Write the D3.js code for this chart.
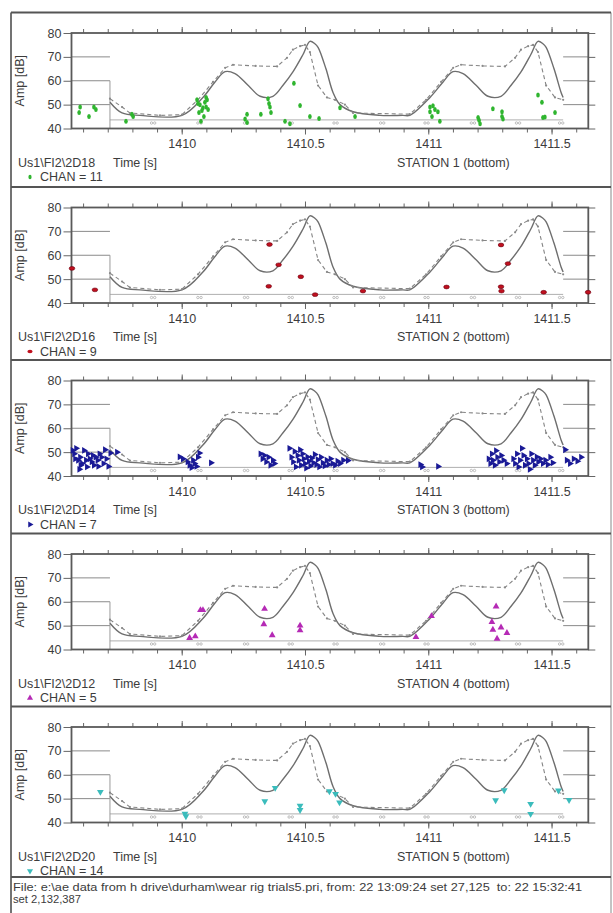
<!DOCTYPE html>
<html>
<head>
<meta charset="utf-8">
<script src="https://d3js.org/d3.v7.min.js"></script>
<style>
  body { margin: 0; background: #fff; }
  svg text { font-family: "Liberation Sans", Arial, sans-serif; fill: #3c3c3c; }
</style>
</head>
<body>
<svg id="chart" width="613" height="913"></svg>
<script>
  "use strict";

  // ---- data ----
  var timeMajor = [1410, 1410.5, 1411, 1411.5];
  var timeLabels = ["1410", "1410.5", "1411", "1411.5"];
  var timeMinor = [1409.6, 1409.7, 1409.8, 1409.9, 1410, 1410.1, 1410.2, 1410.3, 1410.4,
    1410.5, 1410.6, 1410.7, 1410.8, 1410.9, 1411, 1411.1, 1411.2, 1411.3, 1411.4, 1411.5, 1411.6];
  var ampTicks = [40, 50, 60, 70, 80];
  var gridAmps = [50, 60, 70];

  // reference envelope (solid) and threshold (dashed) curves, same in every panel
  var solidCurve = [[1409.709, 51], [1409.758, 46.5], [1409.831, 45.5], [1410.001, 45.5],
    [1410.086, 53], [1410.135, 59.5], [1410.176, 63.8], [1410.216, 63], [1410.270, 58],
    [1410.318, 53.5], [1410.370, 53.5], [1410.410, 58], [1410.451, 63.7], [1410.492, 71],
    [1410.520, 76.5], [1410.540, 75.5], [1410.553, 74], [1410.585, 65], [1410.614, 55],
    [1410.642, 50], [1410.695, 47], [1410.804, 45.5], [1410.897, 45.5], [1410.925, 45.5],
    [1411.007, 53], [1411.060, 59.5], [1411.100, 63.8], [1411.141, 63], [1411.195, 58],
    [1411.242, 53.5], [1411.295, 53.5], [1411.335, 58], [1411.376, 63.7], [1411.416, 71],
    [1411.445, 76.5], [1411.465, 75.5], [1411.478, 74], [1411.510, 65], [1411.539, 55],
    [1411.547, 53]];
  var dashCurve = [[1409.709, 52.5], [1409.758, 49], [1409.790, 46.5], [1409.912, 45.5],
    [1410.001, 45.8], [1410.066, 52], [1410.127, 59.5], [1410.176, 65.4], [1410.208, 66.7],
    [1410.300, 66.2], [1410.387, 66], [1410.427, 69.6], [1410.451, 73], [1410.480, 74.5],
    [1410.500, 75], [1410.520, 72], [1410.553, 58], [1410.589, 53], [1410.622, 52],
    [1410.662, 50], [1410.695, 46.5], [1410.925, 46], [1410.991, 52], [1411.052, 59.5],
    [1411.101, 65.4], [1411.133, 66.7], [1411.220, 66.2], [1411.311, 66], [1411.352, 69.6],
    [1411.376, 73], [1411.405, 74.5], [1411.425, 75], [1411.445, 72], [1411.478, 58],
    [1411.514, 53], [1411.547, 52]];
  var baseCurve = [[1409.709, 43.6], [1411.547, 43.6]];
  var baseMarks = [1409.884, 1410.072, 1410.261, 1410.442, 1410.624, 1410.813,
    1410.993, 1411.181, 1411.364, 1411.539];

  var ch11 = [[1409.584, 46.7], [1409.588, 49], [1409.624, 45], [1409.644, 49], [1409.652, 48],
    [1409.774, 43], [1409.798, 46], [1409.803, 45], [1410.062, 52], [1410.066, 50.5],
    [1410.070, 46.7], [1410.074, 50], [1410.078, 43], [1410.082, 47.5], [1410.086, 48.7],
    [1410.090, 45], [1410.094, 51], [1410.099, 49], [1410.099, 53], [1410.103, 52],
    [1410.107, 48], [1410.257, 44], [1410.265, 46], [1410.265, 42.5], [1410.321, 46],
    [1410.350, 52.5], [1410.354, 50.5], [1410.358, 49], [1410.362, 46.7], [1410.419, 43],
    [1410.439, 42], [1410.455, 59], [1410.480, 49.6], [1410.520, 45], [1410.557, 44.2],
    [1410.642, 48.7], [1410.703, 45], [1411.007, 49], [1411.007, 47], [1411.015, 45],
    [1411.019, 49.5], [1411.027, 48], [1411.039, 47], [1411.047, 43], [1411.202, 44.6],
    [1411.206, 43.5], [1411.210, 42], [1411.262, 48.3], [1411.299, 47], [1411.299, 45],
    [1411.303, 44], [1411.445, 54], [1411.461, 51], [1411.465, 44.6], [1411.473, 44.8],
    [1411.514, 46.7]];
  var ch9 = [[1409.555, 54.5], [1409.648, 45.5], [1410.353, 47], [1410.356, 64.5],
    [1410.393, 56], [1410.483, 51], [1410.541, 43.5], [1410.735, 45], [1411.074, 46.7],
    [1411.295, 64.3], [1411.295, 46.8], [1411.297, 45], [1411.323, 56.5], [1411.468, 44.5],
    [1411.648, 44.5]];
  var ch7 = [[1409.558, 50.7], [1409.564, 49.3], [1409.572, 51.6], [1409.568, 47.2],
    [1409.580, 46.6], [1409.588, 47.9], [1409.590, 44.5], [1409.596, 45.2], [1409.604, 50.7],
    [1409.612, 46.6], [1409.616, 43.8], [1409.620, 49.3], [1409.627, 47.2], [1409.635, 45.9],
    [1409.640, 48.6], [1409.644, 44.5], [1409.651, 47.9], [1409.659, 46.6], [1409.667, 49.3],
    [1409.675, 47.9], [1409.683, 45.2], [1409.689, 51.0], [1409.695, 47.2], [1409.703, 44.0],
    [1409.711, 49.6], [1409.662, 44.0], [1409.585, 42.8], [1409.738, 50], [1409.992, 48],
    [1410.005, 47.2], [1410.024, 45.9], [1410.032, 44.5], [1410.040, 43.5], [1410.046, 46.6],
    [1410.052, 45.2], [1410.060, 44.0], [1410.066, 47.9], [1410.072, 49.6], [1410.119, 45.5],
    [1410.320, 49.3], [1410.328, 47.2], [1410.335, 48.6], [1410.343, 45.9], [1410.352, 47.9],
    [1410.360, 44.5], [1410.370, 46.6], [1410.376, 45.2], [1410.437, 51.6], [1410.445, 47.9],
    [1410.452, 45.9], [1410.458, 50.3], [1410.463, 43.8], [1410.470, 48.6], [1410.475, 46.6],
    [1410.480, 51.0], [1410.484, 44.5], [1410.490, 49.3], [1410.495, 47.2], [1410.500, 45.2],
    [1410.505, 43.3], [1410.510, 48.0], [1410.516, 46.2], [1410.522, 44.2], [1410.528, 47.5],
    [1410.534, 45.5], [1410.540, 49.0], [1410.546, 44.8], [1410.552, 46.9], [1410.558, 43.8],
    [1410.565, 47.9], [1410.572, 45.5], [1410.580, 44.2], [1410.588, 46.6], [1410.596, 44.8],
    [1410.604, 47.2], [1410.612, 45.2], [1410.622, 44.5], [1410.632, 46.2], [1410.642, 45.2],
    [1410.655, 46.6], [1410.674, 46.5], [1410.968, 44.8], [1410.975, 43.8], [1411.040, 44.0],
    [1411.245, 47.2], [1411.252, 45.2], [1411.258, 49.3], [1411.262, 46.6], [1411.270, 44.5],
    [1411.275, 50.6], [1411.280, 47.9], [1411.288, 45.9], [1411.296, 48.6], [1411.305, 46.6],
    [1411.318, 45.2], [1411.345, 47.2], [1411.352, 45.2], [1411.360, 49.3], [1411.366, 43.8],
    [1411.372, 46.6], [1411.380, 51.6], [1411.386, 48.6], [1411.392, 44.5], [1411.400, 47.2],
    [1411.406, 45.2], [1411.412, 42.8], [1411.418, 49.3], [1411.425, 46.6], [1411.432, 44.5],
    [1411.440, 48.0], [1411.446, 45.9], [1411.455, 47.2], [1411.465, 45.2], [1411.475, 46.6],
    [1411.485, 44.8], [1411.495, 47.9], [1411.505, 45.5], [1411.555, 51.0], [1411.562, 46.6],
    [1411.575, 45.2], [1411.590, 47.2], [1411.605, 46.2], [1411.620, 47.9]];
  var ch5 = [[1410.032, 44.8], [1410.055, 45.5], [1410.076, 56.5], [1410.086, 56.5],
    [1410.333, 50.6], [1410.336, 57], [1410.367, 46], [1410.480, 50], [1410.480, 48],
    [1410.950, 45.2], [1411.013, 54], [1411.258, 51.5], [1411.262, 48.3], [1411.275, 58],
    [1411.279, 44.5], [1411.295, 49.2], [1411.319, 46.9]];
  var ch14 = [[1409.670, 52.8], [1410.013, 43.7], [1410.017, 42.6], [1410.337, 48.9],
    [1410.379, 54.5], [1410.480, 47], [1410.480, 45.2], [1410.599, 53.1], [1410.624, 52],
    [1410.640, 48.4], [1411.273, 49.3], [1411.308, 53.5], [1411.415, 47.8], [1411.415, 43.6],
    [1411.528, 53.4], [1411.571, 49.4]];

  var sensorNames = ["Us1\\FI2\\2D18", "Us1\\FI2\\2D16", "Us1\\FI2\\2D14", "Us1\\FI2\\2D12", "Us1\\FI2\\2D20"];
  var chanNumbers = [11, 9, 7, 5, 14];
  var stationNames = ["STATION 1 (bottom)", "STATION 2 (bottom)", "STATION 3 (bottom)",
    "STATION 4 (bottom)", "STATION 5 (bottom)"];
  var footerLines = ["File: e:\\ae data from h drive\\durham\\wear rig trials5.pri, from: 22 13:09:24 set 27,125  to: 22 15:32:41",
    "set 2,132,387"];

  // ---- layout ----
  var panels = [
    { data: ch11, color: "#2fb52f", shape: "blob" },
    { data: ch9, color: "#c0101e", shape: "dash" },
    { data: ch7, color: "#1a1a96", shape: "right" },
    { data: ch5, color: "#b52ab5", shape: "up" },
    { data: ch14, color: "#3bbcbc", shape: "down" }
  ];
  var tops = [12.5, 187, 360, 533.5, 706.5],
    footerTop = 877,
    frameLeft = 11,
    frameRight = 611,
    plotTop = 20.5,
    plotH = 95.5,
    fontSize = "12.5px";

  var svg = d3.select("#chart");

  var x = d3.scaleLinear().domain([1409.553, 1411.649]).range([71.5, 588.3]);

  // outer frame and panel separators
  svg.append("line").attr("x1", frameLeft).attr("x2", frameLeft).attr("y1", tops[0]).attr("y2", 913)
    .attr("stroke", "#444").attr("stroke-width", 1.5);
  svg.append("line").attr("x1", frameRight).attr("x2", frameRight).attr("y1", tops[0]).attr("y2", 913)
    .attr("stroke", "#888").attr("stroke-width", 1);
  tops.concat([footerTop]).forEach(function(t) {
    svg.append("line").attr("x1", frameLeft).attr("x2", frameRight).attr("y1", t).attr("y2", t)
      .attr("stroke", "#555").attr("stroke-width", 2);
  });

  function drawPanel(p, i) {
    var top = tops[i];
    var y = d3.scaleLinear().domain([40, 80]).range([top + plotTop + plotH, top + plotTop]);
    var g = svg.append("g");

    // short grid stubs at the left and right ends
    gridAmps.forEach(function(a) {
      g.append("line").attr("x1", x.range()[0]).attr("x2", x(1409.709))
        .attr("y1", y(a)).attr("y2", y(a)).attr("stroke", "#8a8a8a").attr("stroke-width", 1);
      g.append("line").attr("x1", x(1411.547)).attr("x2", x.range()[1])
        .attr("y1", y(a)).attr("y2", y(a)).attr("stroke", "#8a8a8a").attr("stroke-width", 1);
    });
    g.append("line").attr("x1", x(1409.709)).attr("x2", x(1409.709))
      .attr("y1", y(60)).attr("y2", y(40)).attr("stroke", "#9a9a9a").attr("stroke-width", 1);

    // curves
    var line = d3.line().x(function(d) { return x(d[0]); }).y(function(d) { return y(d[1]); });
    g.append("path").attr("d", line(baseCurve)).attr("fill", "none")
      .attr("stroke", "#9a9a9a").attr("stroke-width", 0.8);
    baseMarks.forEach(function(t) {
      [-1.6, 1.6].forEach(function(dx) {
        g.append("circle").attr("cx", x(t) + dx).attr("cy", y(42.3)).attr("r", 1.2)
          .attr("fill", "none").attr("stroke", "#999").attr("stroke-width", 0.6);
      });
    });
    g.append("path").attr("d", line.curve(d3.curveCatmullRom.alpha(0.5))(solidCurve)).attr("fill", "none")
      .attr("stroke", "#6e6e6e").attr("stroke-width", 1.4);
    g.append("path").attr("d", line.curve(d3.curveLinear)(dashCurve)).attr("fill", "none")
      .attr("stroke", "#858585").attr("stroke-width", 1.1).attr("stroke-dasharray", "4,3");
    g.selectAll(".dmark").data(dashCurve).enter().append("circle")
      .attr("cx", function(d) { return x(d[0]); }).attr("cy", function(d) { return y(d[1]); })
      .attr("r", 1.1).attr("fill", "#8a8a8a");

    // axes
    var xb = g.append("g").attr("transform", "translate(0," + y(40) + ")");
    xb.call(d3.axisBottom(x).tickValues(timeMinor).tickSize(4).tickFormat(""));
    xb.call(function(s) { s.select(".domain").remove(); });
    var xbm = g.append("g").attr("transform", "translate(0," + y(40) + ")")
      .call(d3.axisBottom(x).tickValues(timeMajor).tickSize(6).tickPadding(5)
        .tickFormat(function(d, k) { return timeLabels[k]; }));
    xbm.select(".domain").remove();
    var xt = g.append("g").attr("transform", "translate(0," + y(80) + ")")
      .call(d3.axisTop(x).tickValues(timeMinor).tickSize(4).tickFormat(""));
    xt.select(".domain").remove();
    var xtm = g.append("g").attr("transform", "translate(0," + y(80) + ")")
      .call(d3.axisTop(x).tickValues(timeMajor).tickSize(6).tickFormat(""));
    xtm.select(".domain").remove();
    var yl = g.append("g").attr("transform", "translate(" + x.range()[0] + ",0)")
      .call(d3.axisLeft(y).tickValues(ampTicks).tickSize(8).tickPadding(2));
    yl.select(".domain").remove();
    var yr = g.append("g").attr("transform", "translate(" + x.range()[1] + ",0)")
      .call(d3.axisRight(y).tickValues(ampTicks).tickSize(7).tickFormat(""));
    yr.select(".domain").remove();
    g.selectAll(".tick line").attr("stroke", "#666");
    g.selectAll(".tick text").style("font-size", fontSize).attr("fill", "#3c3c3c");

    // plot frame
    g.append("rect").attr("x", x.range()[0]).attr("y", y(80))
      .attr("width", x.range()[1] - x.range()[0]).attr("height", y(40) - y(80))
      .attr("fill", "none").attr("stroke", "#5a5a5a").attr("stroke-width", 1.8);

    // points
    var pts = g.selectAll(".pt").data(p.data).enter();
    if (p.shape === "blob") {
      pts.append("ellipse").attr("cx", function(d) { return x(d[0]); })
        .attr("cy", function(d) { return y(d[1]); }).attr("rx", 1.8).attr("ry", 2.5)
        .attr("fill", p.color);
    } else if (p.shape === "dash") {
      pts.append("ellipse").attr("cx", function(d) { return x(d[0]); })
        .attr("cy", function(d) { return y(d[1]); }).attr("rx", 2.8).attr("ry", 1.9)
        .attr("fill", p.color).attr("stroke", "#6a0010").attr("stroke-width", 0.6);
    } else {
      var rot = { right: 90, up: 0, down: 180 }[p.shape];
      var tri = d3.symbol().type(d3.symbolTriangle).size(20);
      pts.append("path").attr("d", tri)
        .attr("transform", function(d) { return "translate(" + x(d[0]) + "," + y(d[1]) + ") rotate(" + rot + ")"; })
        .attr("fill", p.color);
    }

    // titles
    g.append("text").attr("transform", "translate(24," + y(60) + ") rotate(-90)")
      .attr("text-anchor", "middle").style("font-size", fontSize).text("Amp [dB]");
    var rowY = y(40) + 38;
    g.append("text").attr("x", 18).attr("y", rowY).style("font-size", fontSize).text(sensorNames[i]);
    g.append("text").attr("x", 113).attr("y", rowY).style("font-size", fontSize).text("Time [s]");
    g.append("text").attr("x", 397).attr("y", rowY).style("font-size", fontSize).text(stationNames[i]);

    // legend
    var ly = rowY + 14.5;
    var lg = g.append("g").attr("transform", "translate(30," + (ly - 4) + ")");
    if (p.shape === "blob") {
      lg.append("ellipse").attr("rx", 1.6).attr("ry", 2.2).attr("fill", p.color);
    } else if (p.shape === "dash") {
      lg.append("ellipse").attr("rx", 2.6).attr("ry", 1.7).attr("fill", p.color);
    } else {
      lg.append("path").attr("d", d3.symbol().type(d3.symbolTriangle).size(16))
        .attr("transform", "rotate(" + { right: 90, up: 0, down: 180 }[p.shape] + ")")
        .attr("fill", p.color);
    }
    g.append("text").attr("x", 40).attr("y", ly).style("font-size", fontSize)
      .text("CHAN = " + chanNumbers[i]);
  }

  panels.forEach(drawPanel);

  // footer (the source text is stretched wide, so fit it to the measured span)
  var footerWidths = [569, 68];
  footerLines.forEach(function(s, k) {
    svg.append("text").attr("x", 13).attr("y", 891 + k * 12)
      .attr("textLength", footerWidths[k]).attr("lengthAdjust", "spacingAndGlyphs")
      .style("font-size", "11px").style("white-space", "pre").text(s);
  });
</script>
</body>
</html>
